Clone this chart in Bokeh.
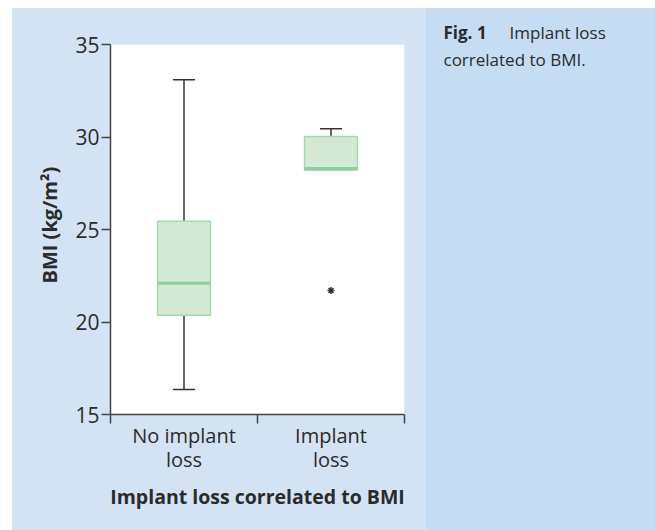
from bokeh.plotting import figure
from bokeh.models import Range1d, FixedTicker, Label, ColumnDataSource, Spacer, BoxAnnotation, Title
from bokeh.layouts import row, column
from bokeh.transform import dodge
from bokeh.embed import file_html
from bokeh.resources import INLINE

# ---- data ----
categories = ["No implant\nloss", "Implant\nloss"]
upper_whisker = [33.1, 30.45]
q3 = [25.45, 30.03]
median = [22.1, 28.3]
q1 = [20.37, 28.2]
lower_whisker = [16.35, 28.2]
outlier_group = [1]
outlier_value = [21.7]
y_ticks = [15, 20, 25, 30, 35]
y_title = "BMI (kg/m²)"
x_title = "Implant loss correlated to BMI"

FONT = "Open Sans"
TXT = "#2b2b2b"
PANEL = "#d4e3f4"
CAPTION_BG = "#c5dcf2"
BOX_W = 0.36
CAP_W = 0.15

# layout in pixels
FIG_H = 522
BORDER_BOTTOM = 116
TOP_GAP = 36          # blue strip above the white plot area
AXIS_PX = FIG_H - BORDER_BOTTOM - TOP_GAP   # pixel height of the value axis
y_lo, y_hi = y_ticks[0], y_ticks[-1]
y_top = y_hi + TOP_GAP * (y_hi - y_lo) / AXIS_PX

xpos = [i + 0.5 for i in range(len(categories))]
src = ColumnDataSource(dict(x=xpos, uw=upper_whisker, q3=q3, med=median, q1=q1, lw=lower_whisker))
out_src = ColumnDataSource(dict(x=[xpos[g] for g in outlier_group], y=outlier_value))

p = figure(width=414, height=FIG_H, output_backend="svg", toolbar_location=None,
           x_range=Range1d(0, len(categories)), y_range=Range1d(y_lo, y_top),
           min_border_left=98, min_border_right=22, min_border_top=0, min_border_bottom=BORDER_BOTTOM,
           styles={"background-color": PANEL})
p.background_fill_color = PANEL
p.border_fill_color = PANEL
p.outline_line_color = None
p.grid.visible = False
p.add_layout(BoxAnnotation(top=y_hi, fill_color="white", fill_alpha=1, line_color=None, level="underlay"))

# whiskers
p.segment(x0="x", y0="q3", x1="x", y1="uw", source=src, line_color="#333333", line_width=1.5)
p.segment(x0="x", y0="q1", x1="x", y1="lw", source=src, line_color="#333333", line_width=1.5)
p.segment(x0=dodge("x", -CAP_W / 2), y0="uw", x1=dodge("x", CAP_W / 2), y1="uw",
          source=src, line_color="#333333", line_width=1.5)
p.segment(x0=dodge("x", -CAP_W / 2), y0="lw", x1=dodge("x", CAP_W / 2), y1="lw",
          source=src, line_color="#333333", line_width=1.5)
# boxes
p.vbar(x="x", top="q3", bottom="q1", width=BOX_W, source=src,
       fill_color="#d3e9d5", line_color="#a3d9ad", line_width=1.5)
p.segment(x0=dodge("x", -BOX_W / 2), y0="med", x1=dodge("x", BOX_W / 2), y1="med",
          source=src, line_color="#8fce9a", line_width=3)
# outlier
p.scatter(x="x", y="y", source=out_src, marker="asterisk", size=7, line_color="#333333", line_width=1.5)

# x axis
xa = p.xaxis[0]
xa.ticker = FixedTicker(ticks=xpos, minor_ticks=list(range(len(categories) + 1)))
xa.major_label_overrides = {x: c for x, c in zip(xpos, categories)}
xa.major_tick_line_color = None
xa.major_tick_in = 0
xa.major_tick_out = 0
xa.minor_tick_in = 0
xa.minor_tick_out = 9
xa.minor_tick_line_color = "#444444"
xa.minor_tick_line_width = 1.5
xa.axis_line_color = "#444444"
xa.axis_line_width = 1.5
xa.major_label_text_font = FONT
xa.major_label_text_font_size = "20px"
xa.major_label_text_line_height = 0.9
xa.major_label_text_color = TXT
xa.major_label_standoff = -2
xa.axis_label = x_title
xa.axis_label_text_font = FONT
xa.axis_label_text_font_style = "bold"
xa.axis_label_text_font_size = "19.5px"
xa.axis_label_text_color = TXT
xa.axis_label_standoff = 7

# y axis
ya = p.yaxis[0]
ya.ticker = FixedTicker(ticks=y_ticks)
ya.bounds = (y_lo, y_hi)
ya.minor_tick_line_color = None
ya.major_tick_in = 0
ya.major_tick_out = 9
ya.major_tick_line_color = "#444444"
ya.major_tick_line_width = 1.5
ya.axis_line_color = "#444444"
ya.axis_line_width = 1.5
ya.major_label_text_font = FONT
ya.major_label_text_font_size = "21px"
ya.major_label_text_color = TXT
ya.major_label_standoff = 2

# y title, placed along the value axis (start offset from the frame bottom, in px)
p.add_layout(Title(text=y_title, align="left", offset=131, standoff=20,
                   text_font=FONT, text_font_style="bold", text_font_size="20px",
                   text_color=TXT), "left")

c = figure(width=229, height=FIG_H, output_backend="svg", toolbar_location=None,
           x_range=Range1d(0, 229), y_range=Range1d(BORDER_BOTTOM, FIG_H),
           min_border_left=0, min_border_right=0, min_border_top=0, min_border_bottom=BORDER_BOTTOM,
           styles={"background-color": CAPTION_BG})
c.axis.visible = False
c.grid.visible = False
c.outline_line_color = None
c.background_fill_color = CAPTION_BG
c.border_fill_color = CAPTION_BG
c.add_layout(Label(x=17, y=FIG_H - 24, text="Fig. 1", text_font=FONT, text_font_style="bold",
                   text_font_size="17px", text_color=TXT, text_baseline="alphabetic"))
c.add_layout(Label(x=83, y=FIG_H - 24, text="Implant loss", text_font=FONT,
                   text_font_size="17px", text_color=TXT, text_baseline="alphabetic"))
c.add_layout(Label(x=17, y=FIG_H - 51, text="correlated to BMI.", text_font=FONT,
                   text_font_size="17px", text_color=TXT, text_baseline="alphabetic"))

layout = column(Spacer(width=655, height=8), row(Spacer(width=12, height=FIG_H), p, c))
open("out.html", "w").write(file_html(layout, INLINE))
